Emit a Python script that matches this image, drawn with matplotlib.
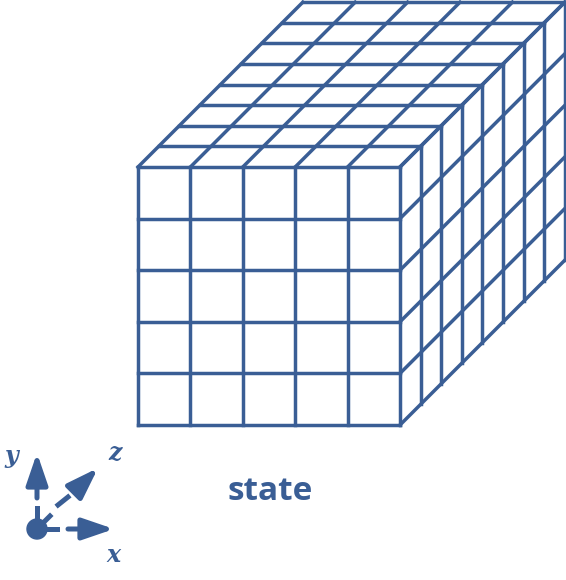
import matplotlib.pyplot as plt
from matplotlib.patches import Circle

# grid of the state cube: columns (x), rows (y), depth slices (z)
n_cols = 5
n_rows = 5
n_depth = 8
label = 'state'
axis_names = ['x', 'y', 'z']

blue = '#3a5e95'
lw = 2.5

# geometry in pixels (y grows downward)
x0, y0 = 138, 425        # bottom-left corner of the front face
cw, ch = 52.4, 51.6      # front cell size
dd = 20.6                # oblique step per depth slice

fig = plt.figure(figsize=(5.66, 5.8), dpi=100)
ax = fig.add_axes([0, 0, 1, 1])
ax.set_xlim(0, 566)
ax.set_ylim(580, 0)
ax.axis('off')

xr = x0 + n_cols * cw
yt = y0 - n_rows * ch
D = n_depth * dd


def seg(xa, ya, xb, yb):
    ax.plot([xa, xb], [ya, yb], color=blue, lw=lw, solid_capstyle='projecting')


# front face
for i in range(n_cols + 1):
    seg(x0 + i * cw, y0, x0 + i * cw, yt)
for j in range(n_rows + 1):
    seg(x0, y0 - j * ch, xr, y0 - j * ch)

# top face
for i in range(n_cols + 1):
    seg(x0 + i * cw, yt, x0 + i * cw + D, yt - D)
for k in range(1, n_depth + 1):
    seg(x0 + k * dd, yt - k * dd, xr + k * dd, yt - k * dd)

# right face
for k in range(1, n_depth + 1):
    seg(xr + k * dd, y0 - k * dd, xr + k * dd, yt - k * dd)
for j in range(n_rows + 1):
    seg(xr, y0 - j * ch, xr + D, y0 - j * ch - D)

ax.text(270, 491, label, color=blue, fontsize=24, fontweight='bold',
        family=['Open Sans', 'DejaVu Sans'], ha='center', va='center')

# small axis gizmo
ox, oy = 37, 529
ax.add_patch(Circle((ox, oy), 10, color=blue, zorder=3))
gl = 3.6
ax.plot([ox, ox], [oy, 508], color=blue, lw=gl)
ax.plot([ox, 57], [oy, oy], color=blue, lw=gl)
ax.plot([ox, 50], [oy, 516], color=blue, lw=gl)
ax.plot([58, 68], [505, 497], color=blue, lw=gl)

arrow = dict(arrowstyle='-|>,head_length=1.9,head_width=0.65', color=blue, lw=gl,
             shrinkA=0, shrinkB=0)
ax.annotate('', xy=(37, 453), xytext=(37, 498), arrowprops=arrow)
ax.annotate('', xy=(114, 529), xytext=(68, 529), arrowprops=arrow)
ax.annotate('', xy=(98, 468), xytext=(77, 489), arrowprops=arrow)

lab_font = dict(color=blue, fontsize=17, fontweight='bold', style='italic',
                family='DejaVu Serif', ha='center', va='center')
ax.text(113, 555, axis_names[0], **lab_font)
ax.text(11, 456, axis_names[1], **lab_font)
ax.text(115, 453, axis_names[2], **lab_font)

fig.savefig('out.png', dpi=100)
